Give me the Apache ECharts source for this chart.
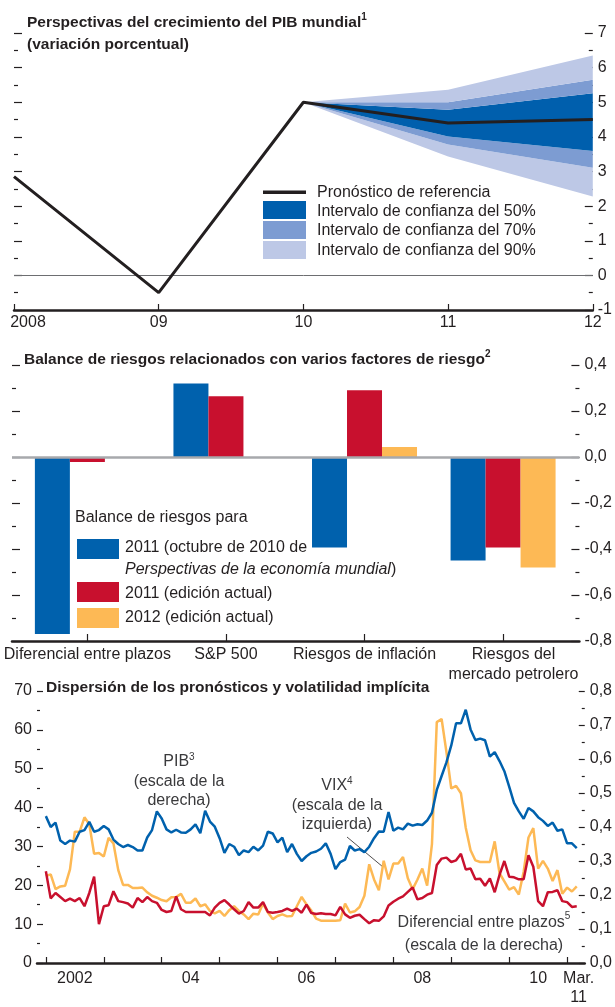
<!DOCTYPE html>
<html>
<head>
<meta charset="utf-8">
<script src="https://cdn.jsdelivr.net/npm/echarts@6/dist/echarts.min.js"></script>
<style>
  html, body { margin: 0; padding: 0; background: #fff; }
  #chart { width: 615px; height: 1007px; }
</style>
</head>
<body>
<div id="chart"></div>
<script>
// ---- panel 1: world GDP growth outlook ----
var gdpYears = ['2008', '09', '10', '11', '12'];
var gdpBaseline = [2.85, -0.5, 5.0, 4.4, 4.5];
// fan values for 2010, 2011, 2012
var fanLo90 = [5.0, 3.43, 2.28];
var fanLo70 = [5.0, 3.78, 3.11];
var fanLo50 = [5.0, 4.01, 3.59];
var fanHi50 = [5.0, 4.78, 5.26];
var fanHi70 = [5.0, 5.0, 5.65];
var fanHi90 = [5.0, 5.36, 6.35];

// ---- panel 2: balance of risks ----
var riskFactors = ['Diferencial entre plazos', 'S&P 500', 'Riesgos de inflación', 'Riesgos del\nmercado petrolero'];
var riskTicks = [0, 1, 2, 3];
var riskLabelPos = [0, 1, 2, 3.075];
var risk2011Oct = [-0.77, 0.32, -0.393, -0.45];
var risk2011Now = [-0.022, 0.264, 0.29, -0.393];
var risk2012Now = [null, null, 0.043, -0.48];

// ---- panel 3: monthly, Jan 2002 .. Mar 2011 ----
var monthStart = 2002;
var yearTicks = [2002, 2003, 2004, 2005, 2006, 2007, 2008, 2009, 2010, 2011];
var yearLabels = [2002.5, 2004.5, 2006.5, 2008.5, 2010.5, 2011.2];
var pibDispersion = [
  0.432, 0.400, 0.413, 0.360, 0.350, 0.360, 0.357, 0.386, 0.391, 0.415, 0.386, 0.391,
  0.403, 0.393, 0.363, 0.350, 0.341, 0.347, 0.341, 0.331, 0.331, 0.369, 0.391, 0.446,
  0.425, 0.393, 0.384, 0.392, 0.384, 0.383, 0.393, 0.408, 0.382, 0.448, 0.416, 0.401,
  0.367, 0.324, 0.350, 0.342, 0.317, 0.331, 0.326, 0.342, 0.331, 0.345, 0.386, 0.381,
  0.355, 0.369, 0.326, 0.350, 0.321, 0.300, 0.314, 0.324, 0.328, 0.336, 0.352, 0.321,
  0.276, 0.297, 0.304, 0.344, 0.331, 0.335, 0.326, 0.342, 0.367, 0.387, 0.386, 0.444,
  0.389, 0.398, 0.393, 0.410, 0.404, 0.408, 0.406, 0.419, 0.442, 0.509, 0.550, 0.590,
  0.640, 0.705, 0.705, 0.745, 0.687, 0.656, 0.660, 0.655, 0.607, 0.620, 0.594, 0.564,
  0.519, 0.471, 0.446, 0.424, 0.456, 0.446, 0.429, 0.418, 0.403, 0.413, 0.389, 0.393,
  0.352, 0.352, 0.338
];
var vix = [
  22.4, 22.8, 19.0, 19.7, 19.9, 24.1, 33.8, 33.8, 37.5, 35.7, 28.1, 28.3,
  27.4, 32.2, 30.8, 23.9, 20.1, 20.1, 19.3, 19.3, 19.4, 18.2, 17.3, 16.8,
  16.2, 15.9, 16.9, 17.0, 17.8, 15.5, 15.5, 16.6, 14.6, 15.1, 13.4, 12.8,
  13.4, 12.1, 13.6, 14.6, 13.4, 12.5, 11.3, 12.7, 12.5, 15.3, 13.0, 11.3,
  12.1, 12.5, 12.0, 12.1, 14.6, 17.0, 15.1, 13.5, 11.4, 10.9, 10.9, 10.9,
  10.9, 11.0, 15.3, 13.0, 13.3, 14.4, 17.3, 25.4, 21.5, 18.7, 26.3, 21.5,
  25.6, 25.6, 27.3, 21.8, 19.0, 21.5, 24.3, 19.9, 30.6, 62.0, 62.8, 54.3,
  44.9, 45.6, 43.7, 34.8, 29.0, 26.4, 26.0, 26.0, 26.0, 31.3, 23.1, 21.0,
  18.9, 19.5, 17.6, 23.5, 32.3, 34.7, 24.3, 26.3, 24.3, 21.1, 23.9, 17.8,
  19.4, 18.4, 19.7
];
var termSpread = [
  0.270, 0.190, 0.206, 0.194, 0.182, 0.189, 0.182, 0.191, 0.167, 0.206, 0.254, 0.114,
  0.167, 0.170, 0.211, 0.182, 0.179, 0.175, 0.163, 0.191, 0.179, 0.194, 0.182, 0.177,
  0.156, 0.150, 0.153, 0.196, 0.158, 0.150, 0.150, 0.150, 0.150, 0.150, 0.140, 0.163,
  0.177, 0.185, 0.172, 0.158, 0.145, 0.153, 0.179, 0.163, 0.163, 0.179, 0.150, 0.148,
  0.150, 0.153, 0.160, 0.153, 0.160, 0.148, 0.172, 0.147, 0.144, 0.146, 0.144, 0.144,
  0.140, 0.165, 0.143, 0.133, 0.139, 0.142, 0.129, 0.117, 0.126, 0.124, 0.137, 0.169,
  0.180, 0.189, 0.196, 0.209, 0.222, 0.187, 0.191, 0.201, 0.206, 0.288, 0.307, 0.310,
  0.297, 0.302, 0.321, 0.275, 0.278, 0.246, 0.248, 0.227, 0.249, 0.208, 0.259, 0.300,
  0.254, 0.252, 0.246, 0.246, 0.317, 0.283, 0.182, 0.167, 0.208, 0.209, 0.214, 0.182,
  0.179, 0.165, 0.167
];

var FONT = "'Liberation Sans', Arial, sans-serif";
var INK = '#231f20';
var NOTE = '#3a3a3c';
var BLUE = '#0061ad';
var RED = '#c8102e';
var YELLOW = '#fdb955';
var FAN50 = '#005fad';
var FAN70 = '#7d9cd2';
var FAN90 = '#bdc8e6';

function monthly(vals) {
  return vals.map(function (v, i) { return [monthStart + i / 12, v]; });
}
function categoryBars(vals) {
  var out = [];
  vals.forEach(function (v, i) { if (v !== null) out.push([i, v]); });
  return out;
}
function comma(v) {
  if (Math.abs(v) < 1e-9) v = 0;
  return v.toFixed(1).replace('.', ',');
}
// band thickness between two bounds, padded with nulls for 2008 and 2009
function band(upper, lower) {
  var out = [null, null];
  upper.forEach(function (v, i) { out.push(lower ? +(v - lower[i]).toFixed(3) : v); });
  return out;
}

var tickStyle = { color: INK, width: 1.2 };
var labelStyle = { color: INK, fontSize: 16, fontFamily: FONT };
var supStyle = { fontSize: 10, fontFamily: FONT, verticalAlign: 'top', lineHeight: 12 };

function sideAxis(grid, pos, min, max, interval, showLabel, fmt, tickLen) {
  return {
    gridIndex: grid, type: 'value', position: pos, min: min, max: max, interval: interval,
    axisLine: { show: false, onZero: false },
    axisTick: { show: true, inside: true, length: tickLen, lineStyle: tickStyle },
    minorTick: { show: true, splitNumber: 2, length: tickLen / 2, lineStyle: tickStyle },
    splitLine: { show: false },
    minorSplitLine: { show: false },
    axisLabel: Object.assign({ show: showLabel, margin: 5, formatter: fmt }, labelStyle)
  };
}

var myChart = echarts.init(document.getElementById('chart'), null, { renderer: 'canvas' });

var fanBand = function (name, vals, color) {
  return {
    name: name, type: 'line', xAxisIndex: 0, yAxisIndex: 0,
    stack: 'fan', stackStrategy: 'all', symbol: 'none', silent: true,
    data: vals,
    lineStyle: { width: 0, opacity: 0 },
    areaStyle: { color: color, opacity: 1 },
    z: 2
  };
};

var option = {
  animation: false,
  textStyle: { fontFamily: FONT },
  title: [
    {
      left: 27, top: 12, padding: 0,
      text: 'Perspectivas del crecimiento del PIB mundial{s|1}\n(variación porcentual)',
      textStyle: {
        color: INK, fontSize: 15.5, fontWeight: 'bold', fontFamily: FONT, lineHeight: 22,
        rich: { s: Object.assign({ fontWeight: 'bold', color: INK }, supStyle) }
      }
    },
    {
      left: 24, top: 349, padding: 0,
      text: 'Balance de riesgos relacionados con varios factores de riesgo{s|2}',
      textStyle: {
        color: INK, fontSize: 15.5, fontWeight: 'bold', fontFamily: FONT, lineHeight: 22,
        rich: { s: Object.assign({ fontWeight: 'bold', color: INK }, supStyle) }
      }
    },
    {
      left: 46, top: 677, padding: 0,
      text: 'Dispersión de los pronósticos y volatilidad implícita',
      textStyle: { color: INK, fontSize: 15.5, fontWeight: 'bold', fontFamily: FONT, lineHeight: 22 }
    }
  ],
  grid: [
    { left: 14, right: 20, top: 33, height: 277 },
    { left: 12, right: 35, top: 365, height: 276 },
    { left: 37, right: 28, top: 691, height: 277 }
  ],
  xAxis: [
    {
      gridIndex: 0, type: 'category', data: gdpYears, boundaryGap: false,
      axisLine: { onZero: false, lineStyle: { color: INK, width: 2.5 } },
      axisTick: { inside: true, length: 6, interval: 0, lineStyle: tickStyle },
      splitLine: { show: false },
      axisLabel: Object.assign({
        margin: 5, interval: 0,
        formatter: function (v) { return v === '2008' ? '{f|2008}' : v; },
        rich: { f: Object.assign({ padding: [0, 0, 0, 28] }, labelStyle) }
      }, labelStyle)
    },
    {
      gridIndex: 1, type: 'value', min: -0.544, max: 3.551,
      axisLine: { onZero: false, lineStyle: { color: INK, width: 2.5 } },
      axisTick: { inside: true, length: 7, lineStyle: tickStyle, customValues: riskTicks },
      splitLine: { show: false },
      axisLabel: Object.assign({
        margin: 4, lineHeight: 20, customValues: riskLabelPos,
        formatter: function (v) { return riskFactors[Math.round(v)]; }
      }, labelStyle)
    },
    {
      gridIndex: 2, type: 'value', min: 2001.847, max: 2011.305,
      axisLine: { onZero: false, lineStyle: { color: INK, width: 2.5 } },
      axisTick: { inside: true, length: 6, lineStyle: tickStyle, customValues: yearTicks },
      splitLine: { show: false },
      axisLabel: Object.assign({
        margin: 6, lineHeight: 19, customValues: yearLabels,
        formatter: function (v) {
          if (v > 2011) return 'Mar.\n11';
          var y = Math.floor(v);
          return y === 2002 ? '2002' : String(y).slice(2);
        }
      }, labelStyle)
    }
  ],
  yAxis: [
    sideAxis(0, 'right', -1, 7, 1, true, null, 8),
    sideAxis(0, 'left', -1, 7, 1, false, null, 8),
    sideAxis(1, 'right', -0.8, 0.4, 0.2, true, comma, 8),
    sideAxis(1, 'left', -0.8, 0.4, 0.2, false, comma, 8),
    sideAxis(2, 'left', 0, 70, 10, true, null, 6),
    sideAxis(2, 'right', 0, 0.8, 0.1, true, comma, 6)
  ],
  series: [
    {
      name: 'base', type: 'line', xAxisIndex: 0, yAxisIndex: 0,
      stack: 'fan', stackStrategy: 'all', symbol: 'none', silent: true,
      data: band(fanLo90),
      lineStyle: { width: 0, opacity: 0 }, z: 2
    },
    fanBand('Intervalo de confianza del 90%', band(fanLo70, fanLo90), FAN90),
    fanBand('Intervalo de confianza del 70%', band(fanLo50, fanLo70), FAN70),
    fanBand('Intervalo de confianza del 50%', band(fanHi50, fanLo50), FAN50),
    fanBand('Intervalo de confianza del 70%', band(fanHi70, fanHi50), FAN70),
    fanBand('Intervalo de confianza del 90%', band(fanHi90, fanHi70), FAN90),
    {
      name: 'Pronóstico de referencia', type: 'line', xAxisIndex: 0, yAxisIndex: 0,
      symbol: 'none', data: gdpBaseline,
      lineStyle: { color: INK, width: 3 }, z: 5,
      markLine: {
        silent: true, symbol: 'none', label: { show: false },
        lineStyle: { color: '#6d6e71', width: 1, type: 'solid' },
        data: [{ yAxis: 0 }]
      }
    },
    {
      name: '2011 (octubre de 2010)', type: 'bar', xAxisIndex: 1, yAxisIndex: 2,
      barWidth: 35, barGap: '0%', data: categoryBars(risk2011Oct),
      itemStyle: { color: BLUE },
      markLine: {
        silent: true, symbol: 'none', label: { show: false }, z: 10,
        lineStyle: { color: '#a7a9ac', width: 2.5, type: 'solid' },
        data: [{ yAxis: 0 }]
      }
    },
    {
      name: '2011 (edición actual)', type: 'bar', xAxisIndex: 1, yAxisIndex: 2,
      barWidth: 35, barGap: '0%', data: categoryBars(risk2011Now),
      itemStyle: { color: RED }
    },
    {
      name: '2012 (edición actual)', type: 'bar', xAxisIndex: 1, yAxisIndex: 2,
      barWidth: 35, barGap: '0%', data: categoryBars(risk2012Now),
      itemStyle: { color: YELLOW }
    },
    {
      name: 'VIX', type: 'line', xAxisIndex: 2, yAxisIndex: 4, symbol: 'none',
      data: monthly(vix), lineStyle: { color: YELLOW, width: 2.5 }, z: 2
    },
    {
      name: 'Diferencial entre plazos', type: 'line', xAxisIndex: 2, yAxisIndex: 5, symbol: 'none',
      data: monthly(termSpread), lineStyle: { color: RED, width: 2.5 }, z: 3
    },
    {
      name: 'PIB', type: 'line', xAxisIndex: 2, yAxisIndex: 5, symbol: 'none',
      data: monthly(pibDispersion), lineStyle: { color: BLUE, width: 2.5 }, z: 4
    }
  ],
  graphic: [
    // panel 1 legend
    { type: 'rect', shape: { x: 263, y: 190.5, width: 43, height: 3.5 }, style: { fill: INK } },
    { type: 'rect', shape: { x: 263, y: 201, width: 43, height: 18 }, style: { fill: FAN50 } },
    { type: 'rect', shape: { x: 263, y: 221, width: 43, height: 18 }, style: { fill: FAN70 } },
    { type: 'rect', shape: { x: 263, y: 241, width: 43, height: 18 }, style: { fill: FAN90 } },
    { type: 'text', x: 317, y: 192.3, style: { text: 'Pronóstico de referencia', fill: INK, font: '16px ' + FONT, verticalAlign: 'middle' } },
    { type: 'text', x: 317, y: 211.5, style: { text: 'Intervalo de confianza del 50%', fill: INK, font: '16px ' + FONT, verticalAlign: 'middle' } },
    { type: 'text', x: 317, y: 231, style: { text: 'Intervalo de confianza del 70%', fill: INK, font: '16px ' + FONT, verticalAlign: 'middle' } },
    { type: 'text', x: 317, y: 250.5, style: { text: 'Intervalo de confianza del 90%', fill: INK, font: '16px ' + FONT, verticalAlign: 'middle' } },
    // panel 2 legend
    { type: 'text', x: 75, y: 518, style: { text: 'Balance de riesgos para', fill: INK, font: '16px ' + FONT, verticalAlign: 'middle' } },
    { type: 'rect', shape: { x: 77, y: 539, width: 42, height: 20 }, style: { fill: BLUE } },
    { type: 'rect', shape: { x: 77, y: 582, width: 42, height: 20 }, style: { fill: RED } },
    { type: 'rect', shape: { x: 77, y: 608, width: 42, height: 20 }, style: { fill: YELLOW } },
    { type: 'text', x: 125, y: 548, style: { text: '2011 (octubre de 2010 de', fill: INK, font: '16px ' + FONT, verticalAlign: 'middle' } },
    {
      type: 'text', x: 125, y: 570,
      style: {
        text: '{i|Perspectivas de la economía mundial})', fill: INK, font: '16px ' + FONT, verticalAlign: 'middle',
        rich: { i: { fontStyle: 'italic', fontSize: 16, fontFamily: FONT, fill: INK } }
      }
    },
    { type: 'text', x: 125, y: 594, style: { text: '2011 (edición actual)', fill: INK, font: '16px ' + FONT, verticalAlign: 'middle' } },
    { type: 'text', x: 125, y: 618, style: { text: '2012 (edición actual)', fill: INK, font: '16px ' + FONT, verticalAlign: 'middle' } },
    // panel 3 notes
    {
      type: 'text', x: 179, y: 752,
      style: {
        text: 'PIB{s|3}\n(escala de la\nderecha)', fill: NOTE, font: '16px ' + FONT,
        align: 'center', verticalAlign: 'top', lineHeight: 19.5,
        rich: { s: Object.assign({ fill: NOTE }, supStyle) }
      }
    },
    {
      type: 'text', x: 337, y: 776,
      style: {
        text: 'VIX{s|4}\n(escala de la\nizquierda)', fill: NOTE, font: '16px ' + FONT,
        align: 'center', verticalAlign: 'top', lineHeight: 19.5,
        rich: { s: Object.assign({ fill: NOTE }, supStyle) }
      }
    },
    { type: 'line', shape: { x1: 347, y1: 837, x2: 383, y2: 867 }, style: { stroke: INK, lineWidth: 0.8 } },
    {
      type: 'text', x: 484, y: 911.5,
      style: {
        text: 'Diferencial entre plazos{s|5}\n(escala de la derecha)', fill: NOTE, font: '16px ' + FONT,
        align: 'center', verticalAlign: 'top', lineHeight: 23,
        rich: { s: Object.assign({ fill: NOTE }, supStyle) }
      }
    }
  ]
};

myChart.setOption(option);
</script>
</body>
</html>
